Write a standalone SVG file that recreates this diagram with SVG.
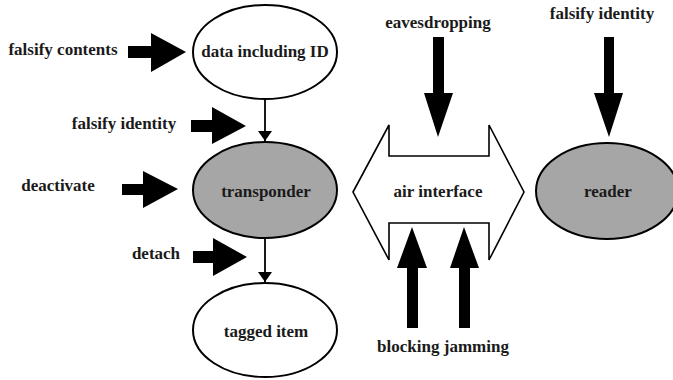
<svg xmlns="http://www.w3.org/2000/svg" width="673" height="380" viewBox="0 0 673 380">
  <style>
    .lbl { font-weight: bold; font-size: 17px; fill: #1a1a1a; text-anchor: middle; }
    .node { stroke: #000; stroke-width: 2; }
    .plain { fill: #fff; }
    .shaded { fill: #a6a6a6; }
    .block { fill: #000; stroke: none; }
    .link { stroke: #000; stroke-width: 1.8; fill: none; }
    .air { fill: #fff; stroke: #000; stroke-width: 1.6; stroke-linejoin: miter; }
  </style>
  <defs>
    <marker id="tip" viewBox="0 0 10 14" refX="10" refY="7" markerWidth="10" markerHeight="14" markerUnits="userSpaceOnUse" orient="auto">
      <path d="M0,0 L10,7 L0,14 Z" fill="#000"/>
    </marker>
  </defs>

  <rect width="673" height="380" fill="#fff"/>

  <g font-family="Liberation Serif, DejaVu Serif, serif">
  <!-- attack labels and their block arrows -->
  <g id="attack-falsify-contents">
    <text class="lbl" x="63" y="55">falsify contents</text>
    <polygon class="block" points="128,46 151,46 151,33 186,52 151,72 151,58 128,58"/>
  </g>
  <g id="attack-falsify-identity-tag">
    <text class="lbl" x="124" y="129">falsify identity</text>
    <polygon class="block" points="191,120 212,120 212,107 246,126 212,144 212,132 191,132"/>
  </g>
  <g id="attack-deactivate">
    <text class="lbl" x="58" y="191">deactivate</text>
    <polygon class="block" points="122,184 143,184 143,171 178,189 143,208 143,195 122,195"/>
  </g>
  <g id="attack-detach">
    <text class="lbl" x="156" y="259">detach</text>
    <polygon class="block" points="193,251 213,251 213,238 247,257 213,276 213,263 193,263"/>
  </g>
  <g id="attack-eavesdropping">
    <text class="lbl" x="438" y="28">eavesdropping</text>
    <polygon class="block" points="433,37 444,37 444,93 453,93 438,137 424,93 433,93"/>
  </g>
  <g id="attack-falsify-identity-reader">
    <text class="lbl" x="602" y="19">falsify identity</text>
    <polygon class="block" points="604,37 614,37 614,93 623,93 609,137 594,93 604,93"/>
  </g>
  <g id="attack-blocking-jamming">
    <text class="lbl" x="443" y="352">blocking jamming</text>
    <polygon class="block" points="407,328 418,328 418,268 427,268 412,227 397,268 407,268"/>
    <polygon class="block" points="459,328 470,328 470,268 479,268 464,227 450,268 459,268"/>
  </g>

  <!-- nodes -->
  <g id="data">
    <ellipse class="node plain" cx="265" cy="52" rx="72" ry="47"/>
    <text class="lbl" x="265" y="57">data including ID</text>
  </g>
  <g id="transponder">
    <ellipse class="node shaded" cx="265" cy="190" rx="72" ry="48"/>
    <text class="lbl" x="266" y="197">transponder</text>
  </g>
  <g id="tagged-item">
    <ellipse class="node plain" cx="265" cy="330" rx="72" ry="47"/>
    <text class="lbl" x="266" y="337">tagged item</text>
  </g>
  <g id="air-interface">
    <polygon class="air" points="353,192 389,125 389,156 489,156 489,125 524,192 489,260 489,223 389,223 389,260"/>
    <text class="lbl" x="438" y="197">air interface</text>
  </g>
  <g id="reader">
    <ellipse class="node shaded" cx="607" cy="191" rx="71" ry="48"/>
    <text class="lbl" x="608" y="197">reader</text>
  </g>
  </g>

  <!-- connectors -->
  <g id="connectors">
    <line class="link" x1="265" y1="99" x2="265" y2="141" marker-end="url(#tip)"/>
    <line class="link" x1="265" y1="238" x2="265" y2="282" marker-end="url(#tip)"/>
  </g>
</svg>
